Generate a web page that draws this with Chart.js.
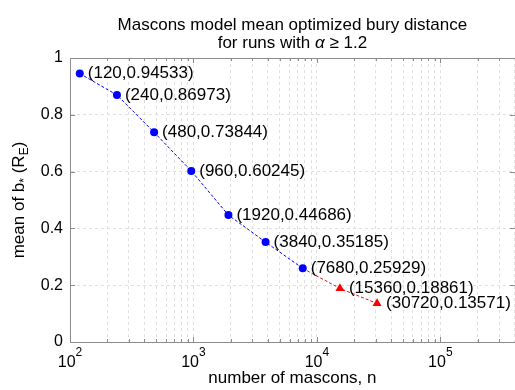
<!DOCTYPE html>
<html><head><meta charset="utf-8">
<script src="https://cdn.jsdelivr.net/npm/chart.js@4"></script>
<style>html,body{margin:0;padding:0;background:#fff;overflow:hidden}#wrap{width:515px;height:390px;position:relative;overflow:hidden}</style>
</head><body><div id="wrap"><canvas id="c" width="520" height="390"></canvas></div>
<script>
// ---- data ----
const blueN = [120, 240, 480, 960, 1920, 3840, 7680];
const blueMean = [0.94533, 0.86973, 0.73844, 0.60245, 0.44686, 0.35185, 0.25929];
const redN = [7680, 15360, 30720];
const redMean = [0.25929, 0.18861, 0.13571];
const redShowMarker = [false, true, true];
const yTickValues = [0, 0.2, 0.4, 0.6, 0.8, 1];
const yTickLabels = ['0', '0.2', '0.4', '0.6', '0.8', '1'];
const xDecades = [100, 1000, 10000, 100000];
const xTickBase = '10';
const xTickExponents = ['2', '3', '4', '5'];
const xMinorMult = [1, 2, 3, 4, 5, 6, 7, 8, 9];
const titleLine1 = 'Mascons model mean optimized bury distance';
const titleLine2 = ['for runs with ', '\u03B1', ' \u2265 1.2'];
const xTitle = 'number of mascons, n';
const yTitleParts = [['mean of b', 0], ['*', 1], [' (R', 0], ['E', 1], [')', 0]];

const FONT = 'Liberation Sans, Arial, sans-serif';
const X_MIN = 100, X_MAX = 401000;
const xTickValues = [];
xDecades.forEach(d => xMinorMult.forEach(m => { const v = d * m; if (v >= X_MIN && v < X_MAX) xTickValues.push(v); }));

const blueData = blueN.map((n, i) => ({x: n, y: blueMean[i]}));
const redData = redN.map((n, i) => ({x: n, y: redMean[i]}));

const fmt = v => String(v);

const decorPlugin = {
  id: 'decor',
  afterDraw(chart) {
    const {ctx, chartArea: a, scales: {x, y}} = chart;
    ctx.save();
    // top border + inward ticks
    ctx.strokeStyle = '#8c8c8c';
    ctx.lineWidth = 1;
    ctx.beginPath();
    ctx.moveTo(a.left, a.top + 0.5); ctx.lineTo(a.right, a.top + 0.5);
    x.ticks.forEach(t => {
      const px = Math.round(x.getPixelForValue(t.value)) + 0.5;
      const len = xDecades.includes(t.value) ? 5 : 3;
      ctx.moveTo(px, a.bottom); ctx.lineTo(px, a.bottom - len);
      ctx.moveTo(px, a.top); ctx.lineTo(px, a.top + len);
    });
    y.ticks.forEach(t => {
      const py = Math.round(y.getPixelForValue(t.value)) + 0.5;
      ctx.moveTo(a.left, py); ctx.lineTo(a.left + 5, py);
      ctx.moveTo(a.right, py); ctx.lineTo(a.right - 5, py);
    });
    ctx.stroke();

    ctx.fillStyle = '#000';
    // x tick labels 10^n with superscript exponent
    ctx.textAlign = 'left';
    ctx.textBaseline = 'alphabetic';
    xDecades.forEach((d, i) => {
      const px = x.getPixelForValue(d);
      ctx.font = '16px ' + FONT;
      const bw = ctx.measureText(xTickBase).width;
      ctx.font = '12px ' + FONT;
      const ew = ctx.measureText(xTickExponents[i]).width;
      const left = px - (bw + ew) / 2;
      ctx.font = '16px ' + FONT;
      ctx.fillText(xTickBase, left, 367);
      ctx.font = '12px ' + FONT;
      ctx.fillText(xTickExponents[i], left + bw, 356);
    });

    // data labels
    ctx.font = '17px ' + FONT;
    ctx.textAlign = 'left';
    ctx.textBaseline = 'middle';
    blueN.forEach((n, i) => {
      ctx.fillText('(' + fmt(n) + ',' + fmt(blueMean[i]) + ')', x.getPixelForValue(n) + 8, y.getPixelForValue(blueMean[i]));
    });
    redN.forEach((n, i) => {
      if (!redShowMarker[i]) return;
      ctx.fillText('(' + fmt(n) + ',' + fmt(redMean[i]) + ')', x.getPixelForValue(n) + 9, y.getPixelForValue(redMean[i]));
    });

    // chart title
    const cx = (a.left + a.right) / 2;
    ctx.textBaseline = 'alphabetic';
    ctx.textAlign = 'center';
    ctx.font = '17px ' + FONT;
    ctx.fillText(titleLine1, cx, 30);
    const fonts = ['17px ' + FONT, 'italic 17px ' + FONT, '17px ' + FONT];
    let w = 0;
    titleLine2.forEach((s, i) => { ctx.font = fonts[i]; w += ctx.measureText(s).width; });
    let sx = cx - w / 2;
    ctx.textAlign = 'left';
    titleLine2.forEach((s, i) => { ctx.font = fonts[i]; ctx.fillText(s, sx, 48); sx += ctx.measureText(s).width; });

    // y title with subscripts
    ctx.translate(24, (a.top + a.bottom) / 2);
    ctx.rotate(-Math.PI / 2);
    const pf = p => (p[1] ? '12px ' : '17px ') + FONT;
    let tw = 0;
    yTitleParts.forEach(p => { ctx.font = pf(p); tw += ctx.measureText(p[0]).width; });
    let tx = -tw / 2;
    yTitleParts.forEach(p => { ctx.font = pf(p); ctx.fillText(p[0], tx, p[1] ? 4 : 0); tx += ctx.measureText(p[0]).width; });
    ctx.restore();
  }
};

const gridOpts = {color: '#e0e0e0', lineWidth: 1, drawTicks: false};
const borderOpts = {color: '#8c8c8c', width: 1, dash: [3, 3]};

new Chart(document.getElementById('c'), {
  type: 'line',
  data: {
    datasets: [
      {data: blueData, borderColor: '#0000ff', backgroundColor: '#0000ff', borderWidth: 1, borderDash: [3, 2],
       pointStyle: 'circle', pointRadius: 4, pointBorderWidth: 0, tension: 0, fill: false},
      {data: redData, borderColor: '#ff0000', backgroundColor: '#ff0000', borderWidth: 1, borderDash: [3, 2],
       pointStyle: 'triangle', pointRadius: redShowMarker.map(s => s ? 5.2 : 0), pointBorderWidth: 0, tension: 0, fill: false}
    ]
  },
  options: {
    responsive: false, animation: false, devicePixelRatio: 1,
    layout: {padding: {top: 58, left: 0, right: 0, bottom: 0}},
    plugins: {legend: {display: false}, tooltip: {enabled: false}, title: {display: false}},
    scales: {
      x: {
        type: 'logarithmic', min: X_MIN, max: X_MAX,
        afterBuildTicks(s) { s.ticks = xTickValues.map(v => ({value: v})); },
        afterFit(s) { s.height = 48; s.paddingLeft = 0; s.paddingRight = 0; },
        grid: gridOpts, border: borderOpts,
        ticks: {display: false, autoSkip: false, maxRotation: 0, minRotation: 0},
        title: {display: true, text: xTitle, color: '#000', font: {family: FONT, size: 17}, padding: {top: 0, bottom: 1}}
      },
      y: {
        min: 0, max: 1,
        afterBuildTicks(s) { s.ticks = yTickValues.map(v => ({value: v})); },
        afterFit(s) { s.width = 70; s.paddingTop = 0; s.paddingBottom = 0; },
        grid: gridOpts, border: borderOpts,
        ticks: {padding: 7, color: '#000', font: {family: FONT, size: 16},
          callback(v) { const i = yTickValues.indexOf(v); return i >= 0 ? yTickLabels[i] : ''; }}
      }
    }
  },
  plugins: [decorPlugin]
});
</script></body></html>
